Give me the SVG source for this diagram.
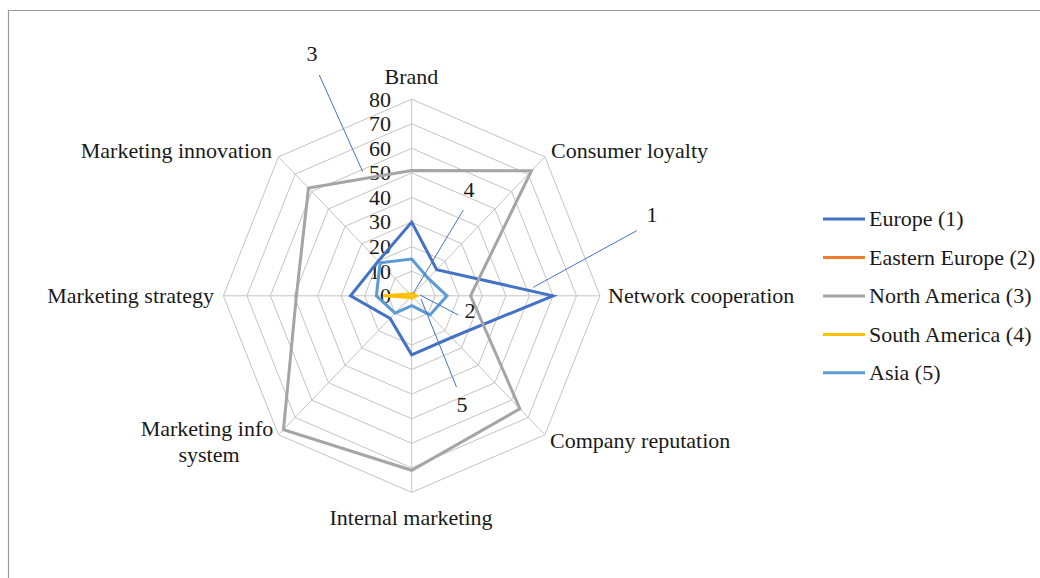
<svg xmlns="http://www.w3.org/2000/svg" width="1040" height="578" viewBox="0 0 1040 578">
  <defs>
    <style>
      .frame { fill: none; stroke: #9a9a9a; stroke-width: 1.2; }
      .ring { fill: none; stroke: #c4c4c4; stroke-width: 1; }
      .spoke { stroke: #c4c4c4; stroke-width: 1; }
      .series { fill: none; stroke-width: 3; stroke-linejoin: miter; }
      .eu { stroke: #4472C4; }
      .ee { stroke: #ED7D31; }
      .na { stroke: #A5A5A5; }
      .sa { stroke: #FFC000; }
      .as { stroke: #5B9BD5; }
      .lbl { font-family: "Liberation Serif", "Times New Roman", serif; font-size: 22px; fill: #1a1a1a; }
      .tick { text-anchor: end; }
      .mid { text-anchor: middle; }
      .end { text-anchor: end; }
      .leader { stroke: #4472C4; stroke-width: 1; fill: none; }
      .key { stroke-width: 3; }
    </style>
  </defs>

  <rect width="1040" height="578" fill="#ffffff"/>
  <!-- outer chart frame -->
  <path class="frame" d="M8.5,578 V10.5 H1040"/>

  <!-- radar grid -->
  <g id="grid">
    <polygon class="ring" points="411.7,271.2 428.3,278.4 435.2,295.8 428.3,313.2 411.7,320.4 395.1,313.2 388.2,295.8 395.1,278.4"/>
    <polygon class="ring" points="411.7,246.6 445.0,261.0 458.8,295.8 445.0,330.6 411.7,345.0 378.4,330.6 364.6,295.8 378.4,261.0"/>
    <polygon class="ring" points="411.7,222.1 461.6,243.7 482.3,295.8 461.6,347.9 411.7,369.5 361.8,347.9 341.1,295.8 361.8,243.7"/>
    <polygon class="ring" points="411.7,197.5 478.3,226.3 505.9,295.8 478.3,365.3 411.7,394.1 345.1,365.3 317.5,295.8 345.1,226.3"/>
    <polygon class="ring" points="411.7,172.9 494.9,208.9 529.4,295.8 494.9,382.7 411.7,418.7 328.5,382.7 294.0,295.8 328.5,208.9"/>
    <polygon class="ring" points="411.7,148.3 511.6,191.5 553.0,295.8 511.6,400.1 411.7,443.3 311.8,400.1 270.4,295.8 311.8,191.5"/>
    <polygon class="ring" points="411.7,123.7 528.2,174.1 576.5,295.8 528.2,417.5 411.7,467.9 295.2,417.5 246.9,295.8 295.2,174.1"/>
    <polygon class="ring" points="411.7,99.2 544.9,156.8 600.0,295.8 544.9,434.8 411.7,492.4 278.5,434.8 223.4,295.8 278.5,156.8"/>
    <line class="spoke" x1="411.7" y1="295.8" x2="411.7" y2="99.2"/>
    <line class="spoke" x1="411.7" y1="295.8" x2="544.9" y2="156.8"/>
    <line class="spoke" x1="411.7" y1="295.8" x2="600.0" y2="295.8"/>
    <line class="spoke" x1="411.7" y1="295.8" x2="544.9" y2="434.8"/>
    <line class="spoke" x1="411.7" y1="295.8" x2="411.7" y2="492.4"/>
    <line class="spoke" x1="411.7" y1="295.8" x2="278.5" y2="434.8"/>
    <line class="spoke" x1="411.7" y1="295.8" x2="223.4" y2="295.8"/>
    <line class="spoke" x1="411.7" y1="295.8" x2="278.5" y2="156.8"/>
  </g>

  <!-- scale values -->
  <g id="scale" class="lbl tick">
    <text x="391" y="106.5">80</text>
    <text x="391" y="131">70</text>
    <text x="391" y="155.6">60</text>
    <text x="391" y="180.2">50</text>
    <text x="391" y="204.8">40</text>
    <text x="391" y="229.4">30</text>
    <text x="391" y="253.9">20</text>
    <text x="391" y="278.5">10</text>
    <text x="391" y="303.1">0</text>
  </g>

  <!-- data series -->
  <g id="series">
    <polygon id="europe" class="series eu" points="411.7,222.1 436.7,269.7 553.0,295.8 451.6,337.5 411.7,354.8 390.1,318.4 350.5,295.8 378.4,261.0"/>
    <polygon id="north-america" class="series na" points="411.7,170.4 531.5,170.7 470.6,295.8 519.9,408.8 411.7,470.3 283.5,429.6 296.4,295.8 308.5,188.0"/>
    <polygon id="south-america" class="series sa" stroke-width="4" points="411.7,293.3 413.4,294.1 416.4,295.8 413.4,297.5 411.7,298.3 410.0,297.5 383.5,295.8 410.0,294.1"/>
    <polygon id="asia" class="series as" points="411.7,259.0 428.3,278.4 447.0,295.8 430.0,314.9 411.7,305.6 395.1,313.2 376.4,295.8 380.1,262.8"/>
  </g>

  <!-- axis labels -->
  <g id="axis-labels" class="lbl">
    <text id="ax-brand" class="mid" x="411.5" y="84">Brand</text>
    <text id="ax-loyalty" x="551" y="158">Consumer loyalty</text>
    <text id="ax-network" x="608" y="303">Network cooperation</text>
    <text id="ax-reputation" x="550" y="448">Company reputation</text>
    <text id="ax-internal" class="mid" x="411" y="525">Internal marketing</text>
    <text id="ax-info" class="mid" x="207" y="436">Marketing info<tspan x="209" y="462">system</tspan></text>
    <text id="ax-strategy" class="end" x="214" y="303">Marketing strategy</text>
    <text id="ax-innovation" class="end" x="272" y="158">Marketing innovation</text>
  </g>

  <!-- series callouts -->
  <g id="callouts">
    <g class="leader">
      <line x1="319.3" y1="75" x2="362.7" y2="171.7"/>
      <line x1="463.3" y1="210" x2="413.3" y2="293.3"/>
      <line x1="636.7" y1="230.7" x2="533.3" y2="287.3"/>
      <line x1="420" y1="295" x2="458.3" y2="315"/>
      <line x1="421" y1="299" x2="456.5" y2="387"/>
    </g>
    <g class="lbl mid">
      <text x="312" y="61">3</text>
      <text x="469" y="197">4</text>
      <text x="652" y="222">1</text>
      <text x="470" y="318">2</text>
      <text x="462" y="412">5</text>
    </g>
  </g>

  <!-- legend -->
  <g id="legend">
    <g id="key-europe"><line class="key eu" x1="823" y1="219" x2="865" y2="219"/><text class="lbl" x="869" y="226.3">Europe (1)</text></g>
    <g id="key-eastern-europe"><line class="key ee" x1="823" y1="257.4" x2="865" y2="257.4"/><text class="lbl" x="869" y="264.7">Eastern Europe (2)</text></g>
    <g id="key-north-america"><line class="key na" x1="823" y1="296" x2="865" y2="296"/><text class="lbl" x="869" y="303.3">North America (3)</text></g>
    <g id="key-south-america"><line class="key sa" x1="823" y1="334.4" x2="865" y2="334.4"/><text class="lbl" x="869" y="341.7">South America (4)</text></g>
    <g id="key-asia"><line class="key as" x1="823" y1="372.8" x2="865" y2="372.8"/><text class="lbl" x="869" y="380.1">Asia (5)</text></g>
  </g>
</svg>
